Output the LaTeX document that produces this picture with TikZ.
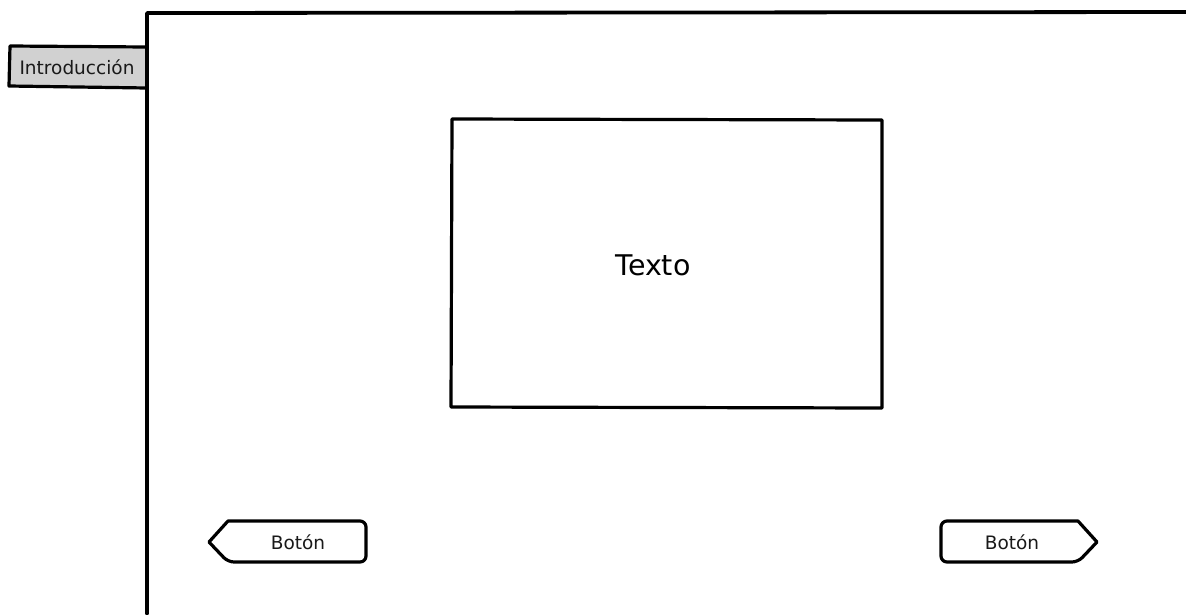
\documentclass[tikz,border=0pt]{standalone}
\usepackage{fontspec}
\setmainfont{DejaVu Sans}
\begin{document}
\begin{tikzpicture}[x=1pt,y=-1pt,
  frame/.style={line width=3.8pt, line cap=round, line join=round},
  boxline/.style={line width=3.2pt, line join=round},
  btn/.style={line width=3.2pt, line join=round, rounded corners=6pt},
  lbl/.style={font=\fontsize{18.5}{20}\selectfont, text=black!90}]
\useasboundingbox (0,0) rectangle (1186,614);
% tab
\draw[boxline, fill=black!18] (147,47) -- (10,46) -- (9,86) -- (147,88);
\node[lbl] (intro) at (77,67) {Introducción};
% frame
\draw[frame] (1186,12) -- (147,13) -- (147,614);
% text box
\draw[boxline] (452,119) -- (882,120) -- (882,408) -- (451,407) -- cycle;
\node[font=\fontsize{28.5}{30}\selectfont, text=black] (texto) at (653,265) {Texto};
% left button
\draw[btn] (228,521) -- (366,521) -- (366,562) -- (228,562) [sharp corners] -- (209,542) -- cycle;
\node[lbl] (bl) at (298,542) {Botón};
% right button
\draw[btn] (1078,521) -- (941,521) -- (941,562) -- (1078,562) [sharp corners] -- (1097,542) -- cycle;
\node[lbl] (br) at (1012,542) {Botón};
\end{tikzpicture}
\end{document}
